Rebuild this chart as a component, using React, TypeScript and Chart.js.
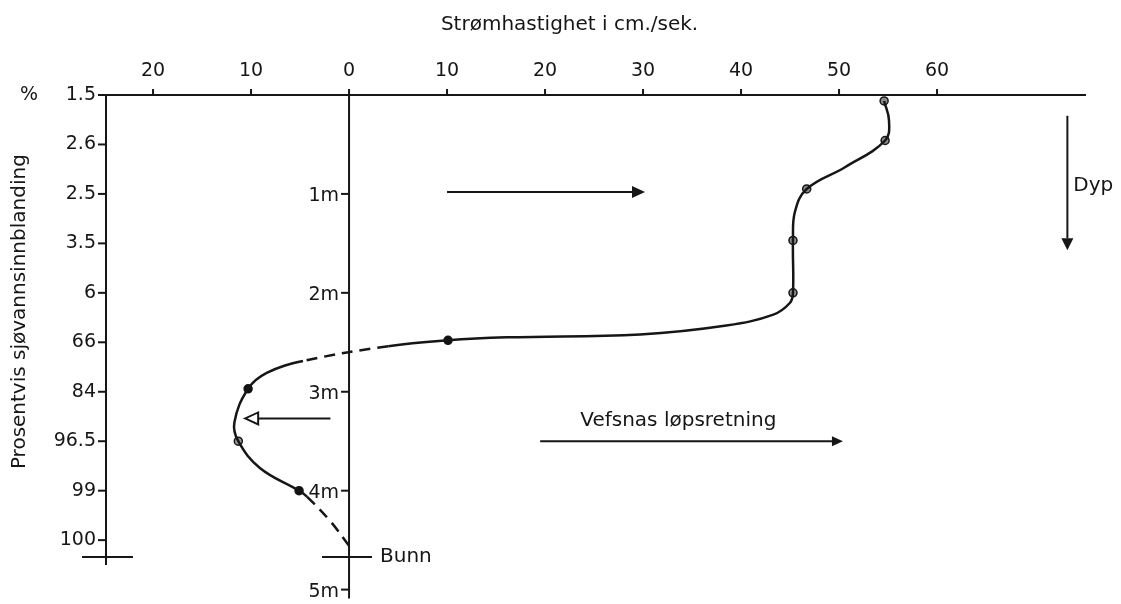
import React, { useEffect, useRef } from "react";
import { Chart, registerables } from "chart.js";

Chart.register(...registerables);

// ---- data ----
const speedTicks = [-20, -10, 0, 10, 20, 30, 40, 50, 60];
const speedTickLabels = ["20", "10", "0", "10", "20", "30", "40", "50", "60"];

const mixDepths = [0, 0.5, 1, 1.5, 2, 2.5, 3, 3.5, 4, 4.5];
const mixLabels = ["1.5", "2.6", "2.5", "3.5", "6", "66", "84", "96.5", "99", "100"];

const meterDepths = [1, 2, 3, 4, 5];
const meterLabels = ["1m", "2m", "3m", "4m", "5m"];

// drawn current-speed profile (cm/s, depth m)
const profileSpeed = [54.6, 55.1, 54.7, 50.6, 46.7, 45.5, 45.3, 45.3, 45.0, 43.3, 38.5, 29.7, 16.1, 10.1, 4.0, -4.7, -8.4, -10.3, -11.7, -11.3, -9.1, -5.1, -4.3, -1.9, 0.1];
const profileDepth = [0.06, 0.26, 0.46, 0.73, 0.95, 1.18, 1.47, 2.0, 2.1, 2.22, 2.33, 2.42, 2.45, 2.48, 2.54, 2.69, 2.81, 2.97, 3.31, 3.5, 3.77, 4.0, 4.06, 4.31, 4.57];
const dashedSegments = [14, 22, 23];

// measured points
const measSpeed = [54.6, 54.7, 46.7, 45.3, 45.3, 10.1, -10.3, -11.3, -5.1];
const measDepth = [0.06, 0.46, 0.95, 1.47, 2.0, 2.48, 2.97, 3.5, 4.0];
const measFill = ["#8c8c8c", "#8c8c8c", "#8c8c8c", "#8c8c8c", "#8c8c8c", "#111111", "#111111", "#9a9a9a", "#111111"];

const bottomDepth = 4.67;

const INK = "#161616";
const FONT = "DejaVu Sans";

function arrow(ctx: CanvasRenderingContext2D, x1: number, y1: number, x2: number, y2: number, len: number, half: number, filled: boolean) {
  const a = Math.atan2(y2 - y1, x2 - x1);
  const bx = x2 - len * Math.cos(a);
  const by = y2 - len * Math.sin(a);
  ctx.beginPath();
  ctx.moveTo(x1, y1);
  ctx.lineTo(bx, by);
  ctx.stroke();
  ctx.beginPath();
  ctx.moveTo(x2, y2);
  ctx.lineTo(bx + half * Math.sin(a), by - half * Math.cos(a));
  ctx.lineTo(bx - half * Math.sin(a), by + half * Math.cos(a));
  ctx.closePath();
  if (filled) ctx.fill();
  else {
    ctx.fillStyle = "#ffffff";
    ctx.fill();
    ctx.stroke();
    ctx.fillStyle = INK;
  }
}

const axesPlugin = {
  id: "profileAxes",
  beforeDatasetsDraw(chart: any) {
    const ctx: CanvasRenderingContext2D = chart.ctx;
    const x = chart.scales.x;
    const y = chart.scales.y;
    const area = chart.chartArea;
    const left = area.left;
    const right = area.right;
    const top = y.getPixelForValue(0);
    const zeroX = x.getPixelForValue(0);
    const bunnY = y.getPixelForValue(bottomDepth);
    ctx.save();
    ctx.strokeStyle = INK;
    ctx.fillStyle = INK;
    ctx.lineWidth = 2;
    ctx.lineCap = "butt";

    // top axis
    ctx.beginPath();
    ctx.moveTo(left, top);
    ctx.lineTo(right, top);
    ctx.stroke();
    // left axis
    ctx.beginPath();
    ctx.moveTo(left, top);
    ctx.lineTo(left, bunnY + 8);
    ctx.stroke();
    // centre axis
    ctx.beginPath();
    ctx.moveTo(zeroX, top);
    ctx.lineTo(zeroX, area.bottom);
    ctx.stroke();
    // bottom marks
    ctx.beginPath();
    ctx.moveTo(left - 24, bunnY);
    ctx.lineTo(left + 27, bunnY);
    ctx.moveTo(zeroX - 27, bunnY);
    ctx.lineTo(zeroX + 23, bunnY);
    ctx.stroke();

    // top ticks + labels
    ctx.font = `19px ${FONT}`;
    ctx.textAlign = "center";
    ctx.textBaseline = "middle";
    speedTicks.forEach((v, i) => {
      const px = x.getPixelForValue(v);
      ctx.beginPath();
      ctx.moveTo(px, top);
      ctx.lineTo(px, top - 6);
      ctx.stroke();
      ctx.fillText(speedTickLabels[i], px, top - 24);
    });

    // left ticks + labels
    ctx.textAlign = "right";
    mixDepths.forEach((d, i) => {
      const py = y.getPixelForValue(d);
      ctx.beginPath();
      ctx.moveTo(left - 8, py);
      ctx.lineTo(left, py);
      ctx.stroke();
      ctx.fillText(mixLabels[i], left - 10, py);
    });
    ctx.textAlign = "center";
    ctx.fillText("%", 29, top);

    // centre ticks + labels
    ctx.textAlign = "right";
    meterDepths.forEach((d, i) => {
      const py = y.getPixelForValue(d);
      ctx.beginPath();
      ctx.moveTo(zeroX - 8, py);
      ctx.lineTo(zeroX, py);
      ctx.stroke();
      ctx.fillText(meterLabels[i], zeroX - 10, py + 2);
    });

    // texts
    ctx.font = `20px ${FONT}`;
    ctx.textAlign = "left";
    ctx.fillText("Bunn", zeroX + 31, bunnY);
    ctx.textAlign = "center";
    ctx.fillText("Strømhastighet i cm./sek.", x.getPixelForValue(22.5), 25);
    ctx.fillText("Vefsnas løpsretning", x.getPixelForValue(33.6), y.getPixelForValue(3.29));
    ctx.textAlign = "left";
    ctx.fillText("Dyp", x.getPixelForValue(73.9), y.getPixelForValue(0.92));

    ctx.save();
    ctx.translate(20, y.getPixelForValue(2.19));
    ctx.rotate(-Math.PI / 2);
    ctx.textAlign = "center";
    ctx.fillText("Prosentvis sjøvannsinnblanding", 0, 0);
    ctx.restore();

    // arrows
    ctx.lineWidth = 2;
    arrow(ctx, x.getPixelForValue(10.0), y.getPixelForValue(0.98), x.getPixelForValue(30.2), y.getPixelForValue(0.98), 13, 6, true);
    arrow(ctx, x.getPixelForValue(-1.9), y.getPixelForValue(3.27), x.getPixelForValue(-10.6), y.getPixelForValue(3.27), 13, 6, false);
    arrow(ctx, x.getPixelForValue(19.5), y.getPixelForValue(3.5), x.getPixelForValue(50.4), y.getPixelForValue(3.5), 11, 5, true);
    arrow(ctx, x.getPixelForValue(73.3), y.getPixelForValue(0.21), x.getPixelForValue(73.3), y.getPixelForValue(1.57), 12, 6, true);

    ctx.restore();
  },
};

export default function App() {
  const ref = useRef<HTMLCanvasElement | null>(null);
  useEffect(() => {
    if (!ref.current) return;
    const chart = new Chart(ref.current, {
      type: "scatter",
      data: {
        datasets: [
          {
            label: "profil",
            data: profileSpeed.map((s, i) => ({ x: s, y: profileDepth[i] })),
            showLine: true,
            pointRadius: 0,
            borderColor: INK,
            borderWidth: 2.5,
            tension: 0.4,
            clip: false,
            segment: {
              borderDash: (c: any) => (dashedSegments.includes(c.p0DataIndex) ? [11, 7] : undefined),
            },
          } as any,
          {
            label: "målinger",
            data: measSpeed.map((s, i) => ({ x: s, y: measDepth[i] })),
            showLine: false,
            pointRadius: 4,
            pointBackgroundColor: measFill,
            pointBorderColor: INK,
            pointBorderWidth: 1.5,
            clip: false,
          } as any,
        ],
      },
      options: {
        responsive: false,
        animation: false,
        layout: { padding: { left: 106, right: 35, top: 95, bottom: 0 } },
        scales: {
          x: { type: "linear", min: -24.8, max: 75.2, display: false },
          y: { type: "linear", reverse: true, min: 0, max: 5.09, display: false },
        },
        plugins: { legend: { display: false }, tooltip: { enabled: false } },
        events: [],
      },
      plugins: [axesPlugin],
    });
    return () => chart.destroy();
  }, []);
  return (
    <div style={{ position: "fixed", left: 0, top: 0, width: 1121, height: 604, background: "#fff" }}>
      <canvas ref={ref} width={1121} height={604} style={{ display: "block" }} />
    </div>
  );
}
